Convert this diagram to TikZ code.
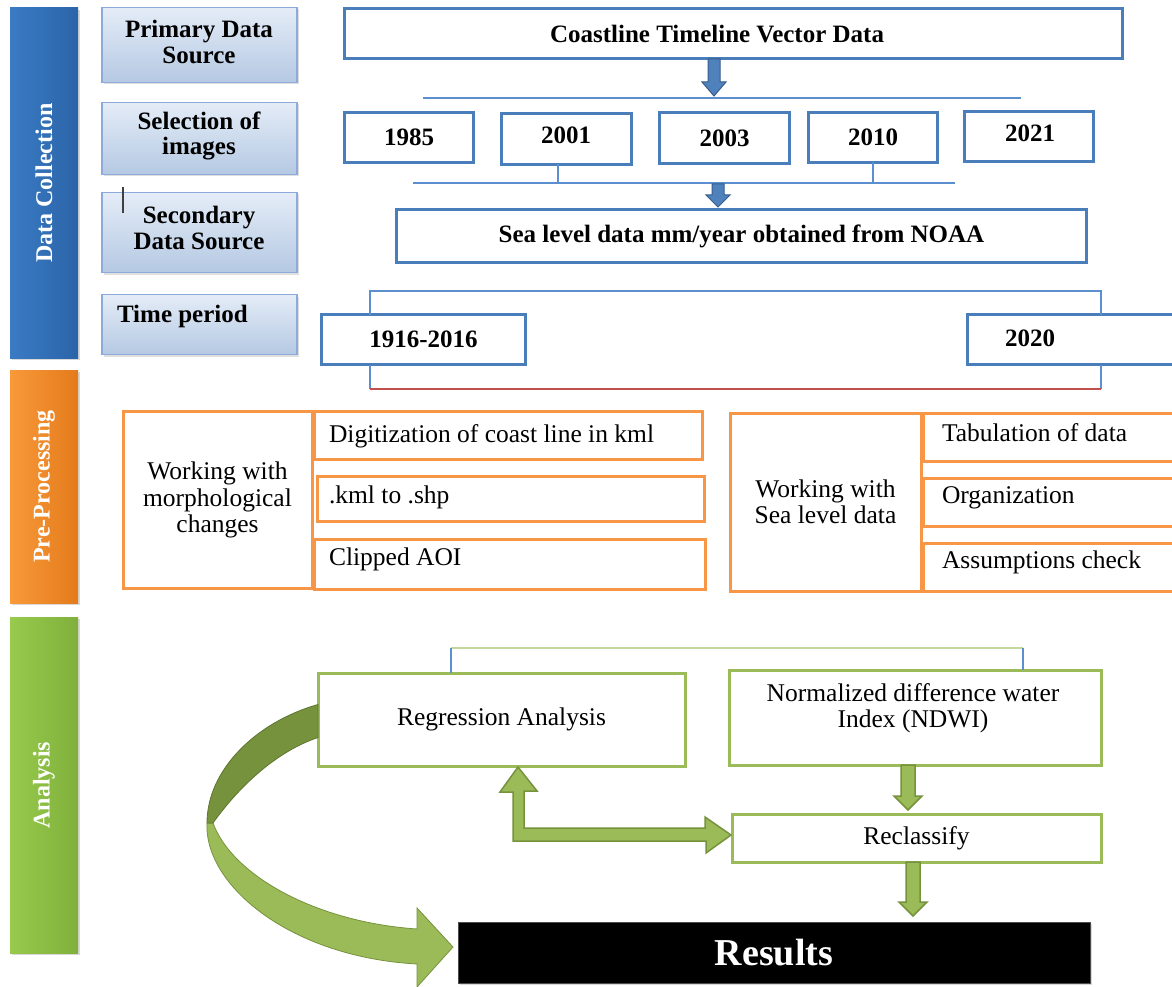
\documentclass[tikz,border=0pt]{standalone}
\usepackage{fontspec}
\setmainfont{Liberation Serif}
\usetikzlibrary{calc,shadows}
\definecolor{dcL}{HTML}{3A7BC4}
\definecolor{dcM}{HTML}{3476BF}
\definecolor{dcD}{HTML}{2B64A8}
\definecolor{ppL}{HTML}{F8993A}
\definecolor{ppM}{HTML}{F28D2A}
\definecolor{ppD}{HTML}{E47B1B}
\definecolor{anL}{HTML}{97CA4D}
\definecolor{anM}{HTML}{8EC246}
\definecolor{anD}{HTML}{80B03C}
\definecolor{lbT}{HTML}{E4ECF7}
\definecolor{lbB}{HTML}{B5C9E3}
\definecolor{lbBorder}{HTML}{8EAADB}
\definecolor{boxblue}{HTML}{4A7EBB}
\definecolor{lineblue}{HTML}{5B8FD0}
\definecolor{redl}{HTML}{C0504D}
\definecolor{orb}{HTML}{F79646}
\definecolor{grb}{HTML}{9BBB59}
\definecolor{grd}{HTML}{76923C}
\definecolor{grl}{HTML}{C4D79B}
\definecolor{arrblue}{HTML}{4F81BD}
\definecolor{arrblueD}{HTML}{385D8A}
% style, start, length, shaft half width, head half width, head length
\newcommand\myDownArrow[6]{%
  \draw[#1] #2 ++(-#4,0) -- ++(0,{#3-#6}) -- ++({#4-#5},0) -- ++(#5,#6)
    -- ++(#5,-#6) -- ++({#4-#5},0) -- ++(0,{-(#3-#6)}) -- cycle;}
\begin{document}
\begin{tikzpicture}[x=1pt,y=-1pt,
  every node/.style={outer sep=0pt, inner sep=0pt},
  bt/.style={font=\fontsize{25}{25.5}\selectfont\bfseries},
  rt/.style={font=\fontsize{25.5}{26.5}\selectfont},
  side/.style={minimum width=68, draw=none,
    drop shadow={opacity=0.3, shadow xshift=1.5pt, shadow yshift=-2pt}},
  sidetxt/.style={rotate=90, text=white, font=\fontsize{24}{25}\selectfont\bfseries},
  lbox/.style={draw=lbBorder, line width=1.5pt, top color=lbT, bottom color=lbB,
    minimum width=195,
    drop shadow={opacity=0.25, shadow xshift=1.5pt, shadow yshift=-2pt}},
  bbox/.style={draw=boxblue, line width=3pt, fill=white},
  obox/.style={draw=orb, line width=3pt, fill=white},
  gbox/.style={draw=grb, line width=3pt, fill=white},
  thinblue/.style={draw=lineblue, line width=1.4pt},
  barrow/.style={fill=arrblue, draw=arrblueD, line width=1pt},
  garrow/.style={fill=grb, draw=grd, line width=1.5pt, line join=miter},
]
\clip (0,0) rectangle (1172,987);
\fill[white] (0,0) rectangle (1172,987);

% ---------- side bars ----------
\node[side, minimum height=350, left color=dcL, middle color=dcM, right color=dcD] (dc) at (44,183) {};
\node[sidetxt] (dct) at (dc.center) {Data Collection};
\node[side, minimum height=233, left color=ppL, middle color=ppM, right color=ppD] (pp) at (44,486.5) {};
\node[sidetxt] (ppt) at (pp.center) {Pre-Processing};
\node[side, minimum height=336, left color=anL, middle color=anM, right color=anD] (an) at (44,785) {};
\node[sidetxt] (ant) at (an.center) {Analysis};

% ---------- left label boxes ----------
\node[lbox, minimum height=75] (prim) at (199.5,45) {};
\node[bt, align=center] (primt) at (199,42) {Primary Data\\Source};
\node[lbox, minimum height=72] (sel) at (199.5,138.5) {};
\node[bt, align=center] (selt) at (199,136) {Selection of\\images};
\node[lbox, minimum height=80] (sec) at (199.5,232.5) {};
\node[bt, align=center] (sect) at (199,228) {Secondary\\Data Source};
\node[lbox, minimum height=60] (tp) at (199.5,324.5) {};
\node[bt, anchor=base west] (tpt) at (117,322) {Time period};
\draw[line width=1.2pt, black!75] (123,187) -- (123,213);

% ---------- data collection ----------
\node[bbox, minimum width=778, minimum height=50] (coast) at (733.5,34) {};
\node[bt] (coastt) at (717,34) {Coastline Timeline Vector Data};

\coordinate (ul1) at (423,98);
\coordinate (ul2) at (1021,98);
\draw[thinblue] (ul1) -- (ul2);
\myDownArrow{barrow}{([xshift=-19.5pt]coast.south)}{37}{6}{12}{14}

\node[bbox, minimum width=129, minimum height=50, bt] (y85) at (409,137.5) {1985};
\node[bbox, minimum width=130, minimum height=51] (y01) at (566.5,139) {};
\node[bt] (y01t) at (566,135) {2001};
\node[bbox, minimum width=130, minimum height=51, bt] (y03) at (724.5,138) {2003};
\node[bbox, minimum width=129, minimum height=50, bt] (y10) at (873,137.5) {2010};
\node[bbox, minimum width=129, minimum height=50] (y21) at (1029,136.5) {};
\node[bt] (y21t) at (1030,133) {2021};

\coordinate (ll1) at (413,183);
\coordinate (ll2) at (955,183);
\draw[thinblue] (ll1) -- (ll2);
\draw[thinblue] ([xshift=-8.5pt]y01.south) -- ([xshift=-8.5pt]y01.south |- ll1);
\draw[thinblue] (y10.south) -- (y10.south |- ll1);

\node[bbox, minimum width=690, minimum height=53, bt] (sea) at (741.5,236) {Sea level data mm/year obtained from NOAA};
\coordinate (a2s) at (718,184);
\myDownArrow{barrow}{(a2s)}{23}{6}{12}{12}

% time period
\node[bbox, minimum width=204, minimum height=50, bt] (t1) at (423.5,339.5) {1916-2016};
\node[bbox, minimum width=211, minimum height=50] (t2) at (1073,339.5) {};
\node[bt] (t2t) at (1030,338) {2020};
\coordinate (tb1) at (370,291);
\coordinate (tb2) at (1101,291);
\coordinate (bb1) at (370,389);
\coordinate (bb2) at (1101,389);
\draw[thinblue] (tb1 |- t1.north) -- (tb1) -- (tb2) -- (tb2 |- t2.north);
\draw[thinblue] (bb1 |- t1.south) -- (bb1);
\draw[thinblue] (bb2 |- t2.south) -- (bb2);
\draw[draw=redl, line width=1.4pt] (bb1) -- (bb2);

% ---------- pre-processing ----------
\node[obox, minimum width=189, minimum height=177, rt, align=center] (mcell) at (217.5,500)
  {Working with\\morphological\\changes};
\node[obox, minimum width=388, minimum height=48] (dig) at (508,435) {};
\node[rt, anchor=west] (digt) at (329,436) {Digitization of coast line in kml};
\node[obox, minimum width=387, minimum height=45] (kml) at (510.5,498.5) {};
\node[rt, anchor=west] (kmlt) at (329,497) {.kml to .shp};
\node[obox, minimum width=391, minimum height=50] (aoi) at (509.5,564) {};
\node[rt, anchor=west] (aoit) at (329,559) {Clipped AOI};

\node[obox, minimum width=191, minimum height=178, rt, align=center] (scell) at (825.5,502)
  {Working with\\Sea level data};
\node[obox, minimum width=256, minimum height=48] (tab) at (1051,437) {};
\node[rt, anchor=west] (tabt) at (942,433) {Tabulation of data};
\node[obox, minimum width=256, minimum height=48] (org) at (1051,502) {};
\node[rt, anchor=west] (orgt) at (942,498) {Organization};
\node[obox, minimum width=256, minimum height=48] (asm) at (1051,567) {};
\node[rt, anchor=west] (asmt) at (942,562) {Assumptions check};

% ---------- analysis ----------
\node[gbox, minimum width=367, minimum height=93, rt] (reg) at (501.5,719.5) {Regression Analysis};
\node[gbox, minimum width=372, minimum height=95] (ndwi) at (915,717.5) {};
\node[rt, align=center] (ndwit) at (913,708) {Normalized difference water\\Index (NDWI)};
\node[gbox, minimum width=369, minimum height=48, rt] (rec) at (916.5,838) {Reclassify};
\node[fill=black, draw=black!70, line width=1pt, minimum width=632, minimum height=61,
  text=white, font=\fontsize{38}{40}\selectfont\bfseries,
  drop shadow={opacity=0.3, shadow xshift=1.5pt, shadow yshift=-2pt}] (res) at (774,952.5) {Results};

\coordinate (ab1) at (451,648);
\coordinate (ab2) at (1023,648);
\draw[draw=grl, line width=2pt] (ab1) -- (ab2);
\draw[thinblue] (ab1) -- (ab1 |- reg.north);
\draw[thinblue] (ab2) -- (ab2 |- ndwi.north);

\myDownArrow{garrow}{([xshift=-7pt]ndwi.south)}{45}{7}{14}{14}
\myDownArrow{garrow}{([xshift=-3.5pt]rec.south)}{54}{7}{14}{14}

% double (L-shaped) arrow between Regression and Reclassify
\coordinate (dtU) at ($(reg.south)+(16.5,1)$);
\coordinate (dtR) at ($(rec.west)+(-1,-3)$);
\draw[garrow] (dtU) -- ++(19,24) -- ++(-13,0) -- ++(0,37) -- ++(181,0) -- ++(0,-11)
  -- (dtR) -- ++(-25,18) -- ++(0,-12) -- ++(-193,0) -- ++(0,-49) -- ++(-13,0) -- cycle;

% curved ribbon arrow from Regression to Results
\coordinate (cr1) at ($(reg.west)+(0,-15)$);
\coordinate (cr2) at ($(reg.west)+(0,18)$);
\coordinate (ctip) at ($(res.west)+(-5,-5.5)$);
\fill[grb, draw=grd, line width=0.8pt]
  (207,823) .. controls (204,885) and (290,957) .. (417,964) -- (417,987)
  -- (ctip) -- (417,908) -- (417,929) .. controls (315,922) and (232,875) .. (213,823) -- cycle;
\fill[grd, draw=grd!80!black, line width=0.8pt]
  (cr1) .. controls (256,722) and (207,770) .. (207,823) -- (213,823)
  .. controls (238,788) and (275,752) .. (cr2) -- cycle;
\end{tikzpicture}
\end{document}
